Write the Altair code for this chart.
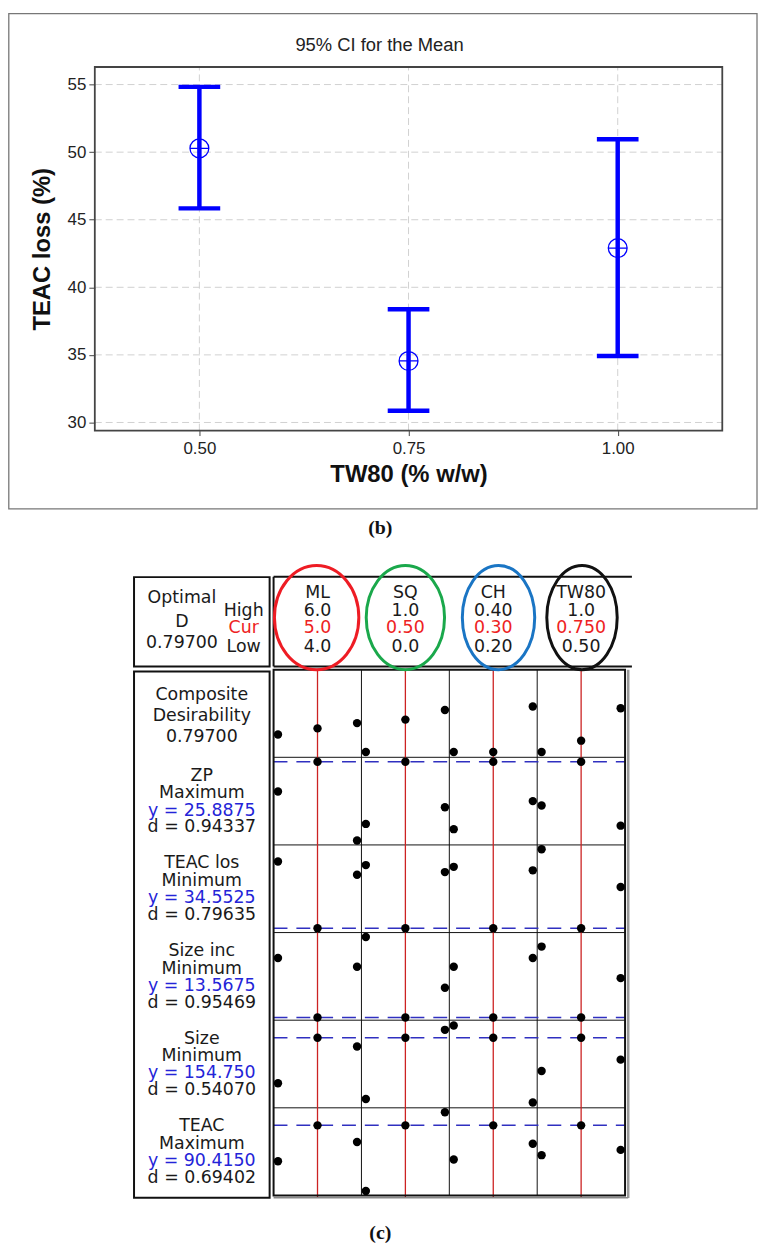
import altair as alt
import pandas as pd

# ---------------- panel (b): 95% CI for the mean ----------------
tw80_levels = [0.50, 0.75, 1.00]
teac_loss_mean = [50.28, 34.55, 42.90]
teac_loss_lower = [45.84, 30.86, 34.91]
teac_loss_upper = [54.83, 38.38, 50.95]
b_x_ticks = [0.50, 0.75, 1.00]
b_y_ticks = [30, 35, 40, 45, 50, 55]
b_x_domain = [0.375, 1.125]
b_y_domain = [29.4, 56.3]

# ---------------- panel (c): optimisation plot ----------------
factor_names = ["ML", "SQ", "CH", "TW80"]
factor_high = ["6.0", "1.0", "0.40", "1.0"]
factor_cur = ["5.0", "0.50", "0.30", "0.750"]
factor_low = ["4.0", "0.0", "0.20", "0.50"]
optimal_d = "0.79700"
composite_d = "0.79700"
response_names = ["ZP", "TEAC los", "Size inc", "Size", "TEAC"]
response_goals = ["Maximum", "Minimum", "Minimum", "Minimum", "Maximum"]
response_pred = ["25.8875", "34.5525", "13.5675", "154.750", "90.4150"]
response_d = ["0.94337", "0.79635", "0.95469", "0.54070", "0.69402"]

# dot heights inside each panel, % of panel height (rows: Composite, ZP, TEAC los, Size inc, Size, TEAC)
dot_low = [[26, 6, 6, 6], [61, 24, 18, 45], [81, 77, 75, 95],
           [71, 95, 61, 84], [28, 10, 94, 42], [39, 5, 41, 46]]
dot_cur = [[33, 43, 6, 19], [95, 95, 95, 95], [5, 5, 5, 5],
           [3, 3, 3, 3], [80, 80, 80, 80], [80, 80, 80, 80]]
dot_high = [[39, 54, 58, 56], [5, 43, 50, 22], [66, 69, 71, 52],
            [61, 37, 71, 48], [70, 89, 6, 55], [61, 95, 59, 52]]

# ---------------- layout ----------------
W, H = 756, 1240
FONT_B = "Liberation Sans"
FONT_C = "DejaVu Sans"
BLUE = "#0000ff"

XB = alt.Scale(domain=b_x_domain, range=[87.5, 720], nice=False, zero=False)
YB = alt.Scale(domain=b_y_domain, range=[421, 54.5], nice=False, zero=False)
XC = alt.Scale(domain=[0, 4], range=[267.7, 622], nice=False, zero=False)
YC = alt.Scale(domain=[0, 6], range=[662, 1192], nice=False, zero=False)
XP = alt.Scale(domain=[0, W], range=[0, W], nice=False, zero=False)
YP = alt.Scale(domain=[0, H], range=[0, H], nice=False, zero=False)

ax_x = alt.Axis(values=b_x_ticks, format=".2f", orient="bottom", offset=421 - H,
                domain=False, grid=False, tickSize=5, tickColor="#444",
                labelFont=FONT_B, labelFontSize=17, labelColor="#222", labelPadding=5,
                labelFlush=False, title="TW80 (% w/w)", titleFont=FONT_B,
                titleFontSize=24, titleFontWeight="bold", titleColor="#111",
                titlePadding=6)
ax_y = alt.Axis(values=b_y_ticks, orient="left", offset=-87.5, domain=False,
                grid=False, tickSize=6, tickColor="#444", labelFont=FONT_B,
                labelFontSize=17, labelColor="#222", labelPadding=3, labelFlush=False,
                title="TEAC loss (%)", titleFont=FONT_B, titleFontSize=24,
                titleFontWeight="bold", titleColor="#111", titlePadding=13)


def bx(f):
    return alt.X(f, type="quantitative", scale=XB, axis=ax_x)


def by(f):
    return alt.Y(f, type="quantitative", scale=YB, axis=ax_y)


df_b = pd.DataFrame({"tw": tw80_levels, "mean": teac_loss_mean,
                     "lo": teac_loss_lower, "hi": teac_loss_upper})

b_hgrid = alt.Chart(pd.DataFrame({"y": b_y_ticks})).transform_calculate(
    x1=str(b_x_domain[0]), x2=str(b_x_domain[1])
).mark_rule(color="#d0d0d0", strokeDash=[7, 4], strokeWidth=1).encode(
    x=bx("x1"), x2="x2:Q", y=by("y"))
b_vgrid = alt.Chart(pd.DataFrame({"x": b_x_ticks})).transform_calculate(
    y1=str(b_y_domain[0]), y2=str(b_y_domain[1])
).mark_rule(color="#d0d0d0", strokeDash=[7, 4], strokeWidth=1).encode(
    x=bx("x"), y=by("y1"), y2="y2:Q")
b_frame = alt.Chart(pd.DataFrame({"x1": [b_x_domain[0]], "x2": [b_x_domain[1]],
                                  "y1": [b_y_domain[0]], "y2": [b_y_domain[1]]})).mark_rect(
    fillOpacity=0, stroke="#444", strokeWidth=1.8).encode(
    x=bx("x1"), x2="x2:Q", y=by("y1"), y2="y2:Q")
b_bars = alt.Chart(df_b).mark_rule(color=BLUE, strokeWidth=4.5).encode(
    x=bx("tw"), y=by("lo"), y2="hi:Q")
b_caps = alt.Chart(df_b).transform_fold(["lo", "hi"], as_=["end", "val"]).mark_tick(
    orient="horizontal", size=42, thickness=4.5, color=BLUE, opacity=1).encode(
    x=bx("tw"), y=by("val"))
mean_path = ("M -1 0 C -1 -0.5523 -0.5523 -1 0 -1 C 0.5523 -1 1 -0.5523 1 0 "
             "C 1 0.5523 0.5523 1 0 1 C -0.5523 1 -1 0.5523 -1 0 Z "
             "M -1 0 L 1 0 M 0 -1 L 0 1")
b_mean = alt.Chart(df_b).mark_point(shape=mean_path, size=361, filled=False,
                                    color=BLUE, strokeWidth=1.3, opacity=1).encode(
    x=bx("tw"), y=by("mean"))

layer_b = alt.layer(b_hgrid, b_vgrid, b_frame, b_bars, b_caps, b_mean)

# ---------------- panel (c) layers ----------------
def cx(f):
    return alt.X(f, type="quantitative", scale=XC, axis=None)


def cy(f):
    return alt.Y(f, type="quantitative", scale=YC, axis=None)


lvl_pos = {"low": 0.05, "cur": 0.5, "high": 0.95}
dot_rows = []
for r in range(6):
    for c in range(4):
        for lvl, arr in (("low", dot_low), ("cur", dot_cur), ("high", dot_high)):
            dot_rows.append({"row": r, "col": c, "lvl": lvl_pos[lvl], "pct": arr[r][c]})
df_dots = pd.DataFrame(dot_rows)

c_dots = alt.Chart(df_dots).transform_calculate(
    gx="datum.col + datum.lvl", gy="datum.row + 1 - datum.pct / 100"
).mark_circle(size=72, color="black", opacity=1).encode(x=cx("gx"), y=cy("gy"))

# grid lines
c_vlines = alt.Chart(pd.DataFrame({"x": [1, 2, 3], "y1": [0] * 3, "y2": [6] * 3})).mark_rule(
    color="#111", strokeWidth=1).encode(x=cx("x"), y=cy("y1"), y2="y2:Q")
c_hlines = alt.Chart(pd.DataFrame({"y": [1, 2, 3, 4, 5], "x1": [0] * 5, "x2": [4] * 5})).mark_rule(
    color="#111", strokeWidth=1).encode(y=cy("y"), x=cx("x1"), x2="x2:Q")

boxes = pd.DataFrame([
    {"x1": 0, "x2": 4, "y1": 0, "y2": 6},
    {"x1": -1.588, "x2": -0.045, "y1": 0.02, "y2": 6.026},
    {"x1": -1.588, "x2": -0.045, "y1": -1.056, "y2": -0.037},
])
c_boxes = alt.Chart(boxes).mark_rect(fillOpacity=0, stroke="#111", strokeWidth=2).encode(
    x=cx("x1"), x2="x2:Q", y=cy("y1"), y2="y2:Q")

segs = pd.DataFrame([
    {"x1": 0, "x2": 4.078, "y1": -1.06, "y2": -1.06, "c": "#111", "w": 2},
    {"x1": 0, "x2": 4.078, "y1": -0.037, "y2": -0.037, "c": "#111", "w": 2},
    {"x1": 0, "x2": 0, "y1": -1.06, "y2": -0.037, "c": "#111", "w": 2},
    {"x1": 4.036, "x2": 4.036, "y1": 0, "y2": 6.03, "c": "#999", "w": 2.5},
    {"x1": 0, "x2": 4.036, "y1": 6.025, "y2": 6.025, "c": "#888", "w": 1.5},
])
c_segs = alt.Chart(segs).mark_rule().encode(
    x=cx("x1"), x2="x2:Q", y=cy("y1"), y2="y2:Q",
    color=alt.Color("c:N", scale=None), strokeWidth=alt.StrokeWidth("w:Q", scale=None))

c_red = alt.Chart(pd.DataFrame({"col": [0, 1, 2, 3]})).transform_calculate(
    x="datum.col + 0.5", y1="0", y2="6.02"
).mark_rule(color="#cc2222", strokeWidth=1.3).encode(x=cx("x"), y=cy("y1"), y2="y2:Q")

cur_rows = pd.DataFrame({"row": [1, 2, 3, 4, 5],
                         "pct": [dot_cur[r][0] for r in range(1, 6)]})
c_dash = alt.Chart(cur_rows).transform_calculate(
    y="datum.row + 1 - datum.pct / 100", x1="0", x2="4"
).mark_rule(color="#3030c0", strokeDash=[14, 9], strokeWidth=1.5).encode(
    x=cx("x1"), x2="x2:Q", y=cy("y"))


def ellipse_path(rx):
    k = 0.5523
    return (f"M {rx:.3f} 0 C {rx:.3f} {k} {k*rx:.3f} 1 0 1 "
            f"C {-k*rx:.3f} 1 {-rx:.3f} {k} {-rx:.3f} 0 "
            f"C {-rx:.3f} {-k} {-k*rx:.3f} -1 0 -1 "
            f"C {k*rx:.3f} -1 {rx:.3f} {-k} {rx:.3f} 0 Z")


ell_colors = ["#ee1c24", "#1aa84b", "#1a75c4", "#111111"]
ell_width_px = [85, 79, 73, 71]
ell_dx = [-0.01, 0.0, 0.06, 0.01]
ell_h = 105
c_ells = []
for c in range(4):
    c_ells.append(
        alt.Chart(pd.DataFrame({"col": [c]})).transform_calculate(
            x=f"datum.col + 0.5 + {ell_dx[c]}", y="-0.594"
        ).mark_point(shape=ellipse_path(ell_width_px[c] / ell_h), size=ell_h ** 2,
                     filled=False, color=ell_colors[c], strokeWidth=3, opacity=1).encode(
            x=cx("x"), y=cy("y"))
    )

BLACK, RED, TXTBLUE = "#1a1a1a", "#ee2222", "#2424d8"
Y_NAME, Y_HIGH, Y_CUR, Y_LOW = -0.880, -0.668, -0.470, -0.256
texts = []
texts += [{"x": -1.043, "y": -0.815, "t": "Optimal", "c": BLACK},
          {"x": -1.043, "y": -0.547, "t": "D", "c": BLACK},
          {"x": -1.043, "y": -0.306, "t": optimal_d, "c": BLACK},
          {"x": -0.34, "y": Y_HIGH, "t": "High", "c": BLACK},
          {"x": -0.34, "y": Y_CUR, "t": "Cur", "c": RED},
          {"x": -0.34, "y": Y_LOW, "t": "Low", "c": BLACK}]
for c in range(4):
    texts += [{"x": c + 0.5, "y": Y_NAME, "t": factor_names[c], "c": BLACK},
              {"x": c + 0.5, "y": Y_HIGH, "t": factor_high[c], "c": BLACK},
              {"x": c + 0.5, "y": Y_CUR, "t": factor_cur[c], "c": RED},
              {"x": c + 0.5, "y": Y_LOW, "t": factor_low[c], "c": BLACK}]
LX = -0.817
texts += [{"x": LX, "y": 0.294, "t": "Composite", "c": BLACK},
          {"x": LX, "y": 0.529, "t": "Desirability", "c": BLACK},
          {"x": LX, "y": 0.773, "t": composite_d, "c": BLACK}]
for i in range(5):
    r = i + 1
    texts += [{"x": LX, "y": r + 0.212, "t": response_names[i], "c": BLACK},
              {"x": LX, "y": r + 0.412, "t": response_goals[i], "c": BLACK},
              {"x": LX, "y": r + 0.608, "t": "y = " + response_pred[i], "c": TXTBLUE},
              {"x": LX, "y": r + 0.800, "t": "d = " + response_d[i], "c": BLACK}]
c_text = alt.Chart(pd.DataFrame(texts)).mark_text(
    font=FONT_C, fontSize=17.5, align="center", baseline="middle").encode(
    x=cx("x"), y=cy("y"), text="t:N", color=alt.Color("c:N", scale=None))

layer_c = alt.layer(c_vlines, c_hlines, c_red, c_dash, c_boxes, c_segs,
                    *c_ells, c_dots, c_text)

# ---------------- page decorations ----------------
page_frame = alt.Chart(pd.DataFrame({"x1": [0.8], "x2": [755], "y1": [0.8], "y2": [500]})).mark_rect(
    fillOpacity=0, stroke="#777", strokeWidth=1.3).encode(
    x=alt.X("x1:Q", scale=XP, axis=None), x2="x2:Q",
    y=alt.Y("y1:Q", scale=YP, axis=None), y2="y2:Q")
page_title = alt.Chart(pd.DataFrame({"x": [374.5], "y": [32], "t": ["95% CI for the Mean"]})).mark_text(
    font=FONT_B, fontSize=18.5, color="#222", align="center", baseline="middle").encode(
    x=alt.X("x:Q", scale=XP, axis=None), y=alt.Y("y:Q", scale=YP, axis=None), text="t:N")
page_caps = alt.Chart(pd.DataFrame({"x": [375.3, 375.3], "y": [519.5, 1229.5], "t": ["(b)", "(c)"]})).mark_text(
    font="Liberation Serif", fontSize=20, fontWeight="bold", color="#111",
    align="center", baseline="middle").encode(
    x=alt.X("x:Q", scale=XP, axis=None), y=alt.Y("y:Q", scale=YP, axis=None), text="t:N")
layer_p = alt.layer(page_frame, page_title, page_caps)

chart = alt.layer(layer_p, layer_b, layer_c).resolve_scale(
    x="independent", y="independent"
).properties(
    width=W, height=H, padding=0, autosize=alt.AutoSizeParams(type="none")
).configure(background="white").configure_view(stroke=None)

chart.save("out.html", embed_options={"renderer": "svg", "actions": False})
